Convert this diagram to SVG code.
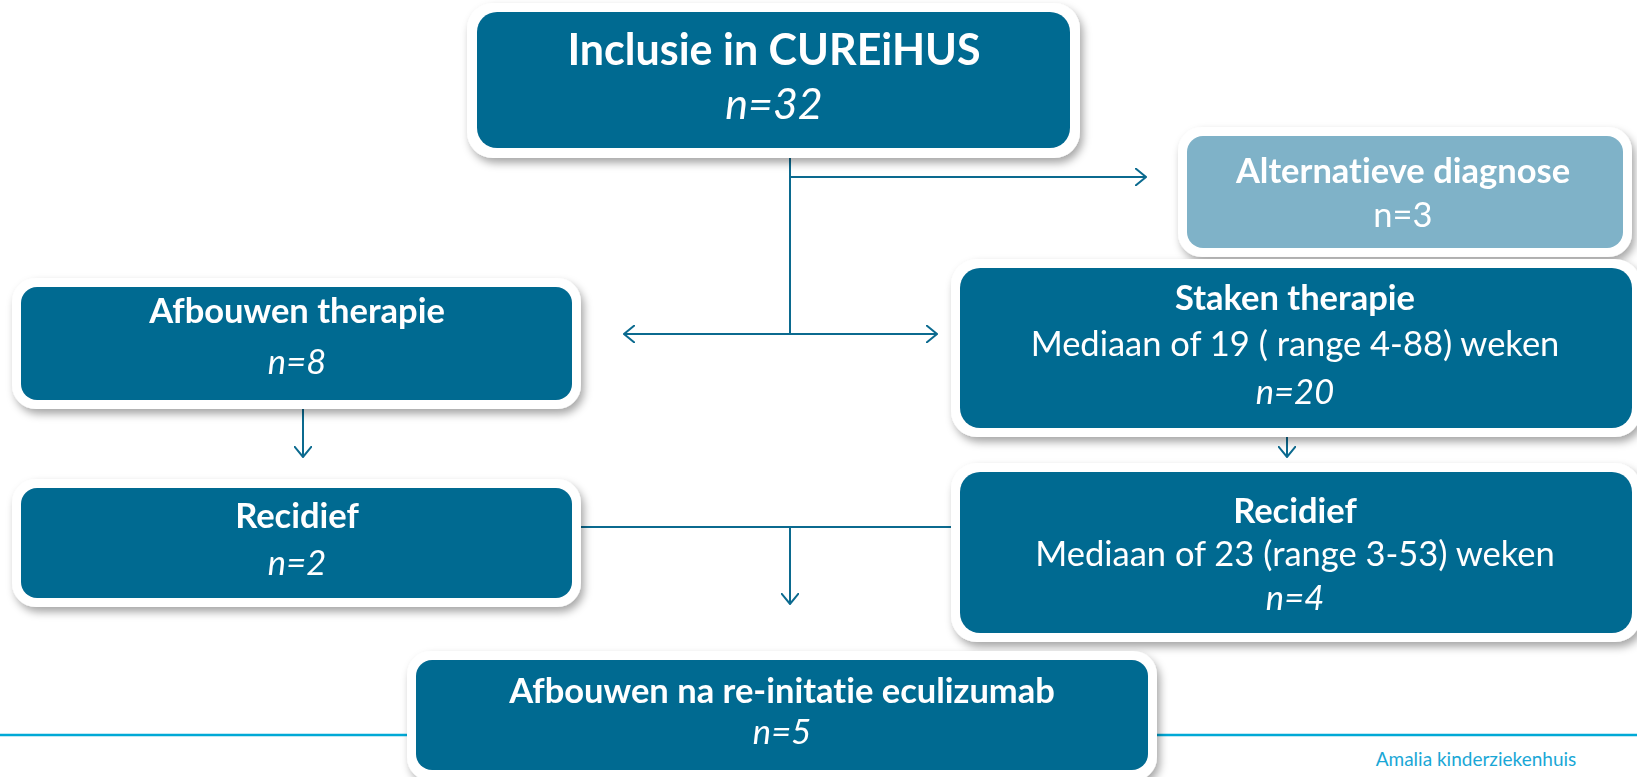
<svg xmlns="http://www.w3.org/2000/svg" width="1637" height="777" viewBox="0 0 1637 777">
<style>
.outer{fill:#ffffff}
.box{fill:#046a91}
.light{fill:#7fb2c8}
text{font-family:Lato,"Open Sans","Liberation Sans",sans-serif;fill:#ffffff;text-anchor:middle;font-variant-ligatures:none}
.b{font-weight:bold;font-size:34.5px}
.r{font-size:34.5px}
.i{font-style:italic;font-size:34.5px}
.conn{stroke:#0b6a8f;stroke-width:2;fill:none}
.foot{stroke:#00a9d6;stroke-width:2.5}
</style>
<defs>
<filter id="sh" x="-5%" y="-10%" width="112%" height="130%">
<feDropShadow dx="3" dy="5" stdDeviation="4" flood-color="#000" flood-opacity="0.35"/>
</filter>
<marker id="ah" viewBox="0 0 12 18" refX="11" refY="9" markerWidth="12" markerHeight="18" markerUnits="userSpaceOnUse" orient="auto-start-reverse">
<path d="M0,0 L11,9 L0,18" fill="none" stroke="#0b6a8f" stroke-width="2"/>
</marker>
</defs>
<rect width="1637" height="777" fill="#ffffff"/>
<g id="footer">
<line class="foot" x1="0" y1="735" x2="410" y2="735"/>
<line class="foot" x1="1154" y1="735" x2="1637" y2="735"/>
<text x="1476" y="766" style="font-size:19px;fill:#1aa7d6">Amalia kinderziekenhuis</text>
</g>
<g id="connectors">
<path class="conn" d="M790,148 V334"/>
<path class="conn" d="M790,177 H1146" marker-end="url(#ah)"/>
<path class="conn" d="M624,334 H937" marker-start="url(#ah)" marker-end="url(#ah)"/>
<path class="conn" d="M303,400 V457" marker-end="url(#ah)"/>
<path class="conn" d="M1287,428 V457" marker-end="url(#ah)"/>
<path class="conn" d="M572,527 H960"/>
<path class="conn" d="M790,527 V604" marker-end="url(#ah)"/>
</g>
<g id="node-inclusie" filter="url(#sh)">
<rect class="outer" x="467" y="3" width="613" height="155" rx="26"/>
<rect class="box" x="477" y="12" width="593" height="136" rx="20"/>
<text class="b" x="774" y="65" style="font-size:43px">Inclusie in CUREiHUS</text>
<text class="i" x="774" y="119" style="font-size:43px">n=32</text>
</g>
<g id="node-alternatief" filter="url(#sh)">
<rect class="outer" x="1178" y="127" width="454" height="130" rx="24"/>
<rect class="light" x="1187" y="136" width="436" height="112" rx="16"/>
<text class="b" x="1403" y="183">Alternatieve diagnose</text>
<text class="r" x="1403" y="227">n=3</text>
</g>
<g id="node-afbouwen" filter="url(#sh)">
<rect class="outer" x="12" y="278" width="569" height="131" rx="24"/>
<rect class="box" x="21" y="287" width="551" height="113" rx="16"/>
<text class="b" x="297" y="323">Afbouwen therapie</text>
<text class="i" x="297" y="374">n=8</text>
</g>
<g id="node-staken" filter="url(#sh)">
<rect class="outer" x="951" y="259" width="690" height="178" rx="26"/>
<rect class="box" x="960" y="268" width="672" height="160" rx="20"/>
<text class="b" x="1295" y="310">Staken therapie</text>
<text class="r" x="1295" y="356">Mediaan of 19 ( range 4-88) weken</text>
<text class="i" x="1295" y="404">n=20</text>
</g>
<g id="node-recidief-links" filter="url(#sh)">
<rect class="outer" x="12" y="479" width="569" height="128" rx="24"/>
<rect class="box" x="21" y="488" width="551" height="110" rx="16"/>
<text class="b" x="297" y="528">Recidief</text>
<text class="i" x="297" y="575">n=2</text>
</g>
<g id="node-recidief-rechts" filter="url(#sh)">
<rect class="outer" x="951" y="463" width="690" height="179" rx="26"/>
<rect class="box" x="960" y="472" width="672" height="161" rx="20"/>
<text class="b" x="1295" y="523">Recidief</text>
<text class="r" x="1295" y="566">Mediaan of 23 (range 3-53) weken</text>
<text class="i" x="1295" y="610">n=4</text>
</g>
<g id="node-afbouwen-na" filter="url(#sh)">
<rect class="outer" x="407" y="651" width="750" height="130" rx="24"/>
<rect class="box" x="416" y="660" width="732" height="110" rx="16"/>
<text class="b" x="782" y="703">Afbouwen na re-initatie eculizumab</text>
<text class="i" x="782" y="744">n=5</text>
</g>
</svg>
